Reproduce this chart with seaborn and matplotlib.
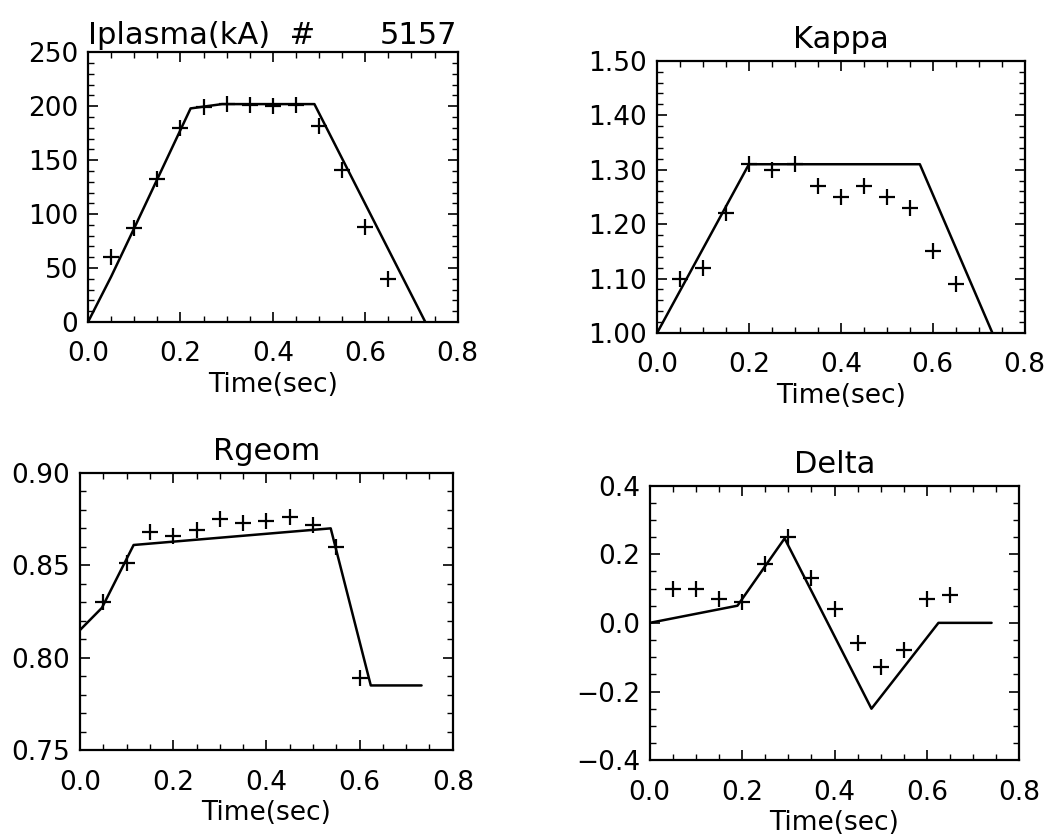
import numpy as np
import pandas as pd
import matplotlib
matplotlib.use("Agg")
import matplotlib.pyplot as plt
from matplotlib.ticker import MultipleLocator, FormatStrFormatter, FuncFormatter
import seaborn as sns

sns.set_theme(style="white")
plt.rcParams['font.family'] = ['DejaVu Sans']
plt.rcParams['text.color'] = 'black'
plt.rcParams['axes.labelcolor'] = 'black'

# ---- data ----
meas_time = [0.05, 0.10, 0.15, 0.20, 0.25, 0.30, 0.35, 0.40, 0.45, 0.50, 0.55, 0.60, 0.65]

ip_line_t = [0.0, 0.05, 0.10, 0.222, 0.29, 0.49, 0.73]
ip_line_v = [0, 42, 87, 198, 202, 202, 0]
ip_meas = [60, 87, 133, 180, 199, 202, 201, 200, 201, 182, 141, 88, 40]

kappa_line_t = [0.0, 0.20, 0.572, 0.73]
kappa_line_v = [1.00, 1.31, 1.31, 1.00]
kappa_meas = [1.10, 1.12, 1.22, 1.31, 1.30, 1.31, 1.27, 1.25, 1.27, 1.25, 1.23, 1.15, 1.09]

rgeom_line_t = [0.0, 0.047, 0.115, 0.538, 0.624, 0.733]
rgeom_line_v = [0.815, 0.827, 0.861, 0.870, 0.785, 0.785]
rgeom_time = [0.05, 0.10, 0.15, 0.20, 0.25, 0.30, 0.35, 0.40, 0.45, 0.50, 0.55, 0.60]
rgeom_meas = [0.830, 0.851, 0.868, 0.866, 0.869, 0.875, 0.873, 0.874, 0.876, 0.872, 0.860, 0.789]

delta_line_t = [0.0, 0.19, 0.292, 0.48, 0.625, 0.74]
delta_line_v = [0.0, 0.05, 0.246, -0.25, 0.0, 0.0]
delta_meas = [0.10, 0.10, 0.07, 0.06, 0.17, 0.25, 0.13, 0.04, -0.06, -0.13, -0.08, 0.07, 0.08]

fig = plt.figure(figsize=(10.53, 8.4), dpi=100)

panels = [
    dict(rect=[0.0836, 0.6167, 0.351, 0.321], lt=ip_line_t, lv=ip_line_v, mt=meas_time, mv=ip_meas,
         ylim=(0, 250), major=50, minor=10, fmt=FormatStrFormatter('%d'), title=None),
    dict(rect=[0.624, 0.6036, 0.349, 0.324], lt=kappa_line_t, lv=kappa_line_v, mt=meas_time, mv=kappa_meas,
         ylim=(1.0, 1.5), major=0.1, minor=0.02, fmt=FormatStrFormatter('%.2f'), title="Kappa"),
    dict(rect=[0.076, 0.107, 0.354, 0.330], lt=rgeom_line_t, lv=rgeom_line_v, mt=rgeom_time, mv=rgeom_meas,
         ylim=(0.75, 0.90), major=0.05, minor=0.01, fmt=FormatStrFormatter('%.2f'), title="Rgeom"),
    dict(rect=[0.617, 0.095, 0.351, 0.327], lt=delta_line_t, lv=delta_line_v, mt=meas_time, mv=delta_meas,
         ylim=(-0.4, 0.4), major=0.2, minor=0.05,
         fmt=FuncFormatter(lambda v, p: ("%.1f" % v).replace("-", "\u2212")), title="Delta"),
]

for i, p in enumerate(panels):
    ax = fig.add_axes(p["rect"])
    line_df = pd.DataFrame({"t": p["lt"], "v": p["lv"]})
    meas_df = pd.DataFrame({"t": p["mt"], "v": p["mv"]})
    sns.lineplot(data=line_df, x="t", y="v", ax=ax, color="black", lw=1.8,
                 sort=False, estimator=None)
    sns.scatterplot(data=meas_df, x="t", y="v", ax=ax, marker="+", s=130,
                    color="black", linewidth=1.6)
    ax.set_xlim(0, 0.8)
    ax.set_ylim(*p["ylim"])
    ax.xaxis.set_major_locator(MultipleLocator(0.2))
    ax.xaxis.set_minor_locator(MultipleLocator(0.05))
    ax.xaxis.set_major_formatter(FormatStrFormatter('%.1f'))
    ax.yaxis.set_major_locator(MultipleLocator(p["major"]))
    ax.yaxis.set_minor_locator(MultipleLocator(p["minor"]))
    ax.yaxis.set_major_formatter(p["fmt"])
    ax.tick_params(which="both", direction="in", top=True, right=True,
                   bottom=True, left=True, colors="black")
    ax.tick_params(which="major", length=7, width=1.2, labelsize=19)
    ax.tick_params(which="minor", length=4, width=1.0)
    ax.tick_params(axis="x", which="major", pad=14)
    ax.tick_params(axis="y", which="major", pad=7)
    for s in ax.spines.values():
        s.set_color("black")
        s.set_linewidth(1.6)
    ax.set_xlabel("Time(sec)", fontsize=19, labelpad=3, color="black")
    ax.set_ylabel("")
    if p["title"] is None:
        ax.set_title("Iplasma(kA)  #", loc="left", fontsize=22, pad=6, color="black")
        ax.set_title("5157", loc="right", fontsize=22, pad=6, color="black")
    else:
        ax.set_title(p["title"], fontsize=22, pad=9, color="black")

fig.savefig("out.png", dpi=100)
